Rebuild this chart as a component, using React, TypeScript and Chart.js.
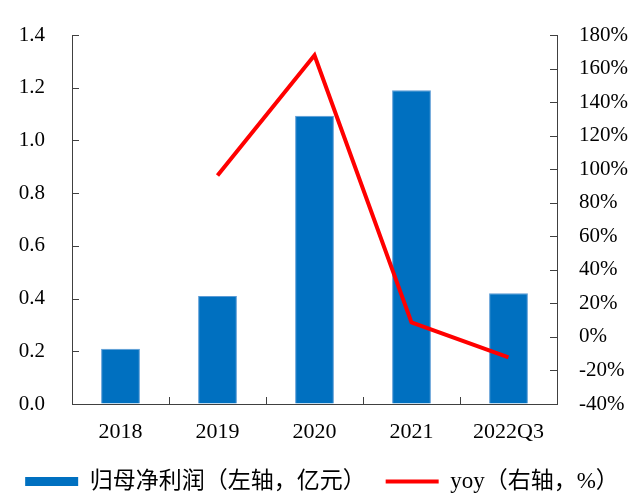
import React, { useEffect, useRef } from "react";
import { Chart, registerables } from "chart.js";

Chart.register(...registerables);

const categories = ["2018", "2019", "2020", "2021", "2022Q3"];
const profit = [0.21, 0.41, 1.094, 1.19, 0.42];
const yoy = [null, 96.3, 167.9, 8.7, -12.2];
const leftTicks = { min: 0, max: 1.4, step: 0.2 };
const rightTicks = { min: -40, max: 180, step: 20 };
const barLabel = "归母净利润（左轴，亿元）";
const lineLabel = "yoy（右轴，%）";

const LATIN = '"Liberation Serif", "Times New Roman", serif';
const MIXED = '"Liberation Serif", "Noto Sans CJK SC", serif';
const AXIS_COLOR = "#404040";

const innerTicks = {
  id: "innerTicks",
  afterDatasetsDraw(chart: any) {
    const ctx = chart.ctx;
    const area = chart.chartArea;
    const len = 7;
    ctx.save();
    ctx.strokeStyle = AXIS_COLOR;
    ctx.lineWidth = 1;
    const y = chart.scales.y;
    const y1 = chart.scales.y1;
    const x = chart.scales.x;
    ctx.beginPath();
    y.ticks.forEach((_t: any, i: number) => {
      const p = Math.round(y.getPixelForTick(i)) + 0.5;
      ctx.moveTo(area.left, p);
      ctx.lineTo(area.left + len, p);
    });
    y1.ticks.forEach((_t: any, i: number) => {
      const p = Math.round(y1.getPixelForTick(i)) + 0.5;
      ctx.moveTo(area.right, p);
      ctx.lineTo(area.right - len, p);
    });
    for (let i = 0; i < categories.length - 1; i++) {
      const p = Math.round((x.getPixelForValue(i) + x.getPixelForValue(i + 1)) / 2) + 0.5;
      ctx.moveTo(p, area.bottom);
      ctx.lineTo(p, area.bottom - len);
    }
    ctx.stroke();
    ctx.restore();
  },
};

export default function App() {
  const ref = useRef<HTMLCanvasElement | null>(null);
  useEffect(() => {
    if (!ref.current) return;
    const chart = new Chart(ref.current, {
      type: "bar",
      data: {
        labels: categories,
        datasets: [
          {
            type: "bar",
            label: barLabel,
            data: profit,
            backgroundColor: "#0070C0",
            borderColor: "#5B9BD5",
            borderWidth: 1,
            yAxisID: "y",
            order: 2,
            categoryPercentage: 1,
            barPercentage: 0.4,
          } as any,
          {
            type: "line",
            label: lineLabel,
            data: yoy,
            borderColor: "#FF0000",
            backgroundColor: "#FF0000",
            borderWidth: 4,
            pointRadius: 0,
            tension: 0,
            yAxisID: "y1",
            order: 1,
          } as any,
        ],
      },
      options: {
        animation: false,
        responsive: true,
        maintainAspectRatio: false,
        layout: { padding: { top: 35, left: 0, right: 0, bottom: -9 } },
        plugins: {
          tooltip: { enabled: false },
          legend: {
            display: true,
            position: "bottom",
            labels: {
              usePointStyle: true,
              pointStyleWidth: 53,
              boxHeight: 9,
              padding: 20,
              color: "#000",
              font: { family: MIXED, size: 23 },
              sort: (a: any, b: any) => a.datasetIndex - b.datasetIndex,
              generateLabels: (chart: any) => {
                const items = Chart.defaults.plugins.legend.labels.generateLabels(chart);
                return items.map((it: any) => ({
                  ...it,
                  pointStyle: it.datasetIndex === 0 ? "rect" : "line",
                  lineWidth: it.datasetIndex === 0 ? 0 : 4,
                  strokeStyle: it.datasetIndex === 0 ? "#0070C0" : "#FF0000",
                  fillStyle: it.datasetIndex === 0 ? "#0070C0" : "#FF0000",
                }));
              },
            },
          },
        },
        scales: {
          x: {
            offset: true,
            grid: { display: true, drawOnChartArea: false, drawTicks: false },
            border: { display: true, color: AXIS_COLOR, width: 1 },
            ticks: { color: "#000", padding: 15, font: { family: LATIN, size: 22 } },
            afterFit: (s: any) => {
              s.height = 46;
            },
          },
          y: {
            position: "left",
            min: leftTicks.min,
            max: leftTicks.max,
            grid: { display: true, drawOnChartArea: false, drawTicks: false },
            border: { display: true, color: AXIS_COLOR, width: 1 },
            ticks: {
              stepSize: leftTicks.step,
              color: "#000",
              padding: 27,
              font: { family: LATIN, size: 21 },
              callback: (v: any) => Number(v).toFixed(1),
            },
            afterFit: (s: any) => {
              s.width = 72;
              s.paddingTop = 0;
              s.paddingBottom = 0;
            },
          },
          y1: {
            position: "right",
            min: rightTicks.min,
            max: rightTicks.max,
            grid: { display: true, drawOnChartArea: false, drawTicks: false },
            border: { display: true, color: AXIS_COLOR, width: 1 },
            ticks: {
              stepSize: rightTicks.step,
              color: "#000",
              padding: 22,
              font: { family: LATIN, size: 21 },
              callback: (v: any) => `${v}%`,
            },
            afterFit: (s: any) => {
              s.width = 87;
              s.paddingTop = 0;
              s.paddingBottom = 0;
            },
          },
        },
      },
      plugins: [innerTicks],
    });
    return () => chart.destroy();
  }, []);
  return (
    <div style={{ position: "fixed", left: 0, top: 0, width: 644, height: 494, background: "#fff" }}>
      <canvas ref={ref} />
    </div>
  );
}
